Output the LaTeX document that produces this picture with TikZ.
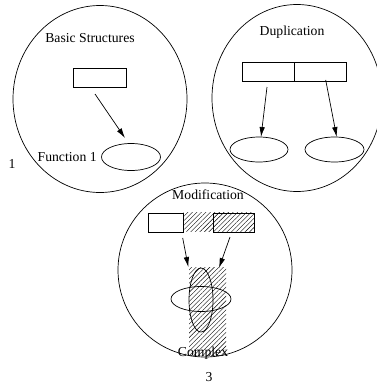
\documentclass[tikz,border=0pt]{standalone}
\usepackage{fontspec}
\setmainfont{Liberation Serif}
\usetikzlibrary{shapes.geometric,arrows.meta,patterns.meta}
\begin{document}
\begin{tikzpicture}[x=1pt,y=-1pt,line width=0.7pt,
  lbl/.style={font=\fontsize{13.7}{16}\selectfont,inner sep=0},
  box/.style={draw,rectangle,inner sep=0,anchor=north west,minimum height=19pt},
  oval/.style={draw,ellipse,inner sep=0},
  arr/.style={-{Latex[length=10pt,width=5.5pt]}},
  hatch/.style={pattern={Lines[angle=45,distance=3.2pt,line width=0.4pt]}}]
\useasboundingbox (0,0) rectangle (377,391);

% ---- circle 1: Basic Structures
\node[oval,minimum width=174pt,minimum height=187pt] (c1) at (100,99) {};
\node[lbl] (t1) at (90,38) {Basic Structures};
\node[box,minimum width=53pt] (r1) at (73,68) {};
\node[oval,minimum width=59pt,minimum height=27pt] (e1) at (131,157) {};
\node[lbl,anchor=east] (f1) at (97,157) {Function 1};
\node[lbl] (n1) at (12,164) {1};
\coordinate (a1s) at (95,94);
\coordinate (a1e) at (125,138);
\draw[arr] (a1s) -- (a1e);

% ---- circle 2: Duplication
\node[oval,minimum width=170pt,minimum height=187pt] (c2) at (297,98) {};
\node[lbl] (t2) at (292,32) {Duplication};
\node[box,minimum width=52.6pt] (r2a) at (241.7,62) {};
\node[box,minimum width=51.7pt] (r2b) at (294.3,62) {};
\node[oval,minimum width=58pt,minimum height=25pt] (e2a) at (259,149.5) {};
\node[oval,minimum width=59pt,minimum height=25pt] (e2b) at (334.5,149.5) {};
\node[lbl] (n2) at (381,165) {2};
\coordinate (a2s) at (267,87);
\coordinate (a2e) at (261,137);
\coordinate (a3s) at (325.7,80);
\coordinate (a3e) at (336.7,137);
\draw[arr] (a2s) -- (a2e);
\draw[arr] (a3s) -- (a3e);

% ---- circle 3: Modification
\node[oval,minimum width=174pt,minimum height=174pt] (c3) at (205,270) {};
\begin{scope}
  \clip (205,270) ellipse[x radius=86.6pt,y radius=86.6pt];
  \fill[hatch] (189,267) rectangle (226,360);
\end{scope}
\fill[hatch] (183.3,212.7) rectangle (254,231.7);
\node[box,minimum width=35.3pt] (r3a) at (148,212.7) {};
\node[box,minimum width=41pt] (r3b) at (213,212.7) {};
\node[lbl] (t3) at (208,195) {Modification};
\node[oval,minimum width=24pt,minimum height=64pt] (e3v) at (201,300) {};
\node[oval,minimum width=60pt,minimum height=25pt] (e3h) at (201,299) {};
\node[lbl] (cx) at (203,353) {Complex};
\node[lbl] (n3) at (209,377) {3};
\coordinate (a4s) at (182.7,238);
\coordinate (a4e) at (188.3,267);
\coordinate (a5s) at (230,237);
\coordinate (a5e) at (219,268);
\draw[arr] (a4s) -- (a4e);
\draw[arr] (a5s) -- (a5e);
\end{tikzpicture}
\end{document}
